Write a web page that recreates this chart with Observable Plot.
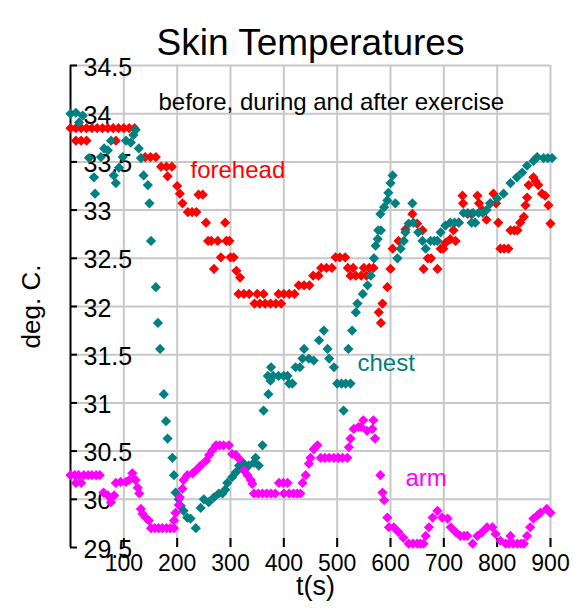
<!DOCTYPE html>
<html><head><meta charset="utf-8">
<script src="https://cdn.jsdelivr.net/npm/d3@7"></script>
<script src="https://cdn.jsdelivr.net/npm/@observablehq/plot@0.6"></script>
<style>
body{margin:0;background:#fff;}
svg{font-family:"Liberation Sans",Arial,sans-serif;}
</style>
</head><body><div id="chart"></div>
<script>
const title = "Skin Temperatures";
const xLabel = "t(s)";
const yLabel = "deg. C.";
const xTicks = [100,200,300,400,500,600,700,800,900];
const yTicks = [29.5,30,30.5,31,31.5,32,32.5,33,33.5,34,34.5];

const seriesNames = ["forehead","chest","arm"];

const foreheadT = [0,10,20,30,40,50,60,70,80,90,100,110,120,10,20,30,85,
  140,150,160,170,180,190,182,200,205,210,220,228,236,240,248,
  254,258,264,269,276,282,290,292,298,300,306,311,318,
  315,325,335,345,350,355,362,365,375,385,390,395,400,410,420,428,438,448,455,465,470,480,490,497,505,515,520,525,530,535,545,550,555,560,568,
  578,582,585,594,600,604,615,628,641,650,660,662,670,676,688,694,699,703,712,718,722,728,735,736,745,752,763,766,772,780,787,793,798,
  802,806,813,821,825,832,838,843,850,853,856,859,868,872,877,884,890,896,900];
const foreheadV = [33.85,33.85,33.85,33.85,33.85,33.85,33.85,33.85,33.85,33.85,33.85,33.85,33.85,33.72,33.72,33.72,33.72,
  33.55,33.55,33.55,33.45,33.45,33.45,33.35,33.25,33.17,33.07,32.98,32.98,32.98,33.16,33.16,
  32.87,32.68,32.68,32.39,32.68,32.51,32.87,32.68,32.68,32.51,32.51,32.37,32.3,
  32.13,32.13,32.13,32.03,32.13,32.03,32.13,32.03,32.03,32.03,32.13,32.03,32.13,32.13,32.13,32.22,32.22,32.22,32.32,32.32,32.4,32.4,32.4,32.51,32.51,32.51,32.4,32.32,32.4,32.32,32.32,32.4,32.32,32.4,32.4,
  31.94,31.83,32.03,32.2,32.39,32.6,32.68,32.8,32.96,32.86,32.79,32.39,32.5,32.5,32.39,32.6,32.6,32.66,32.7,32.79,32.68,32.87,33.15,33.07,32.96,32.96,33.15,33.07,33.0,32.9,33.07,33.17,33.07,
  32.87,32.6,32.6,32.6,32.79,32.79,32.79,32.87,32.93,33.05,33.13,33.26,33.34,33.3,33.26,33.17,33.15,33.05,32.86];

const chestT = [0,10,16,23,35,44,46,57,63,70,76,81,85,91,98,104,113,118,122,128,132,137,145,148,151,160,164,168,175,179,182,191,194,197,203,207,212,219,225,235,
  244,250,259,269,278,285,290,294,303,310,316,325,334,344,347,353,360,362,371,375,376,370,380,390,400,407,410,416,422,430,435,438,447,456,466,475,482,485,494,
  500,508,516,525,512,521,528,535,538,548,557,563,569,572,576,577,581,582,588,594,596,600,604,609,613,619,625,628,634,641,643,652,660,666,675,682,688,694,703,
  712,720,728,737,745,752,755,759,765,773,780,787,800,812,825,837,847,856,868,875,887,895,903];
const chestV = [34.0,34.01,33.91,33.98,33.54,33.34,33.17,33.55,33.64,33.62,33.72,33.36,33.28,33.44,33.55,33.72,33.7,33.78,33.83,33.64,33.54,33.36,33.26,33.07,32.68,32.2,31.83,31.56,31.09,30.81,30.63,30.43,30.25,30.07,30.0,29.93,29.88,29.81,29.8,29.7,
  29.91,30.0,29.97,30.02,30.06,30.06,30.1,30.17,30.23,30.28,30.35,30.37,30.35,30.38,30.43,30.35,30.56,30.92,31.09,31.23,31.37,31.28,31.28,31.28,31.28,31.28,31.2,31.2,31.37,31.37,31.46,31.56,31.46,31.44,31.65,31.75,31.56,31.46,31.37,
  31.2,31.2,31.2,31.2,30.92,31.56,31.75,31.94,32.03,32.13,32.22,32.32,32.5,32.63,32.7,32.79,32.96,32.79,33.03,33.1,33.18,33.28,33.36,33.07,32.5,32.6,32.68,32.77,32.86,33.07,32.87,32.77,32.68,32.6,32.68,32.68,32.68,32.77,32.84,
  32.87,32.87,32.87,32.97,32.97,32.87,32.97,32.87,32.97,32.97,33.0,33.07,33.12,33.17,33.28,33.34,33.39,33.46,33.51,33.55,33.54,33.54,33.54];

const armT = [0,8,10,15,20,25,33,40,48,55,62,70,76,82,85,94,104,110,116,122,126,129,132,135,141,147,151,158,165,172,180,187,194,194,197,203,205,210,212,219,229,235,244,254,260,266,273,280,287,297,
  303,310,316,325,332,338,341,344,352,360,368,376,384,391,399,407,400,410,418,425,431,435,441,447,450,456,463,469,477,485,494,502,510,519,522,525,531,540,545,549,556,566,568,571,
  581,585,588,594,597,606,615,624,634,642,650,656,662,666,672,679,688,697,707,713,722,731,738,744,754,763,772,781,791,797,806,816,825,822,830,838,845,850,856,862,868,875,881,893,900];
const armV = [30.25,30.25,30.17,30.25,30.17,30.25,30.25,30.25,30.25,30.25,30.07,30.04,29.97,30.04,30.17,30.18,30.18,30.2,30.27,30.2,30.12,30.06,29.9,29.85,29.81,29.78,29.7,29.7,29.7,29.7,29.7,29.7,29.7,29.78,29.86,29.94,30.02,30.11,30.2,30.25,30.27,30.3,30.35,30.4,30.46,30.51,30.56,30.56,30.56,30.56,
  30.47,30.46,30.42,30.3,30.25,30.2,30.16,30.06,30.06,30.06,30.06,30.06,30.06,30.17,30.17,30.17,30.06,30.06,30.06,30.06,30.06,30.17,30.25,30.37,30.43,30.52,30.56,30.43,30.43,30.43,30.43,30.43,30.43,30.43,30.54,30.63,30.73,30.75,30.75,30.82,30.71,30.73,30.82,30.63,
  30.25,30.07,29.99,29.81,29.71,29.71,29.66,29.6,29.54,29.54,29.54,29.54,29.54,29.62,29.71,29.81,29.88,29.81,29.8,29.71,29.66,29.62,29.62,29.62,29.54,29.62,29.66,29.71,29.71,29.64,29.57,29.54,29.62,29.54,29.54,29.54,29.54,29.54,29.62,29.71,29.8,29.83,29.86,29.9,29.86];

const noteTexts = ["before, during and after exercise","forehead","chest","arm"];
const noteT = [165,225,538,628];
const noteV = [34.12,33.41,31.41,30.22];

const colors = ["#ff0000","#008080","#ff00ff"];
const noteColors = ["#000000", ...colors];

const toRows = (T, V) => T.map((t, i) => ({t, v: V[i]}));
const seriesRows = [toRows(foreheadT, foreheadV), toRows(chestT, chestV), toRows(armT, armV)];

const font = "Liberation Sans, Arial, sans-serif";
const marks = [
  Plot.gridX(xTicks, {stroke: "#c8c8c8", strokeOpacity: 1, strokeWidth: 2}),
  Plot.gridY(yTicks.filter(d => d > 29.5), {stroke: "#c8c8c8", strokeOpacity: 1, strokeWidth: 2}),
  Plot.ruleX([0], {stroke: "black", strokeWidth: 2}),
  Plot.axisY(yTicks, {anchor: "left", tickSize: -7, strokeWidth: 2, tickFormat: () => "", label: null}),
  Plot.axisY(yTicks, {anchor: "left", tickSize: 0, tickPadding: 0, textAnchor: "start", dx: 13, dy: 2, fontSize: 25, fill: "black", label: null, tickFormat: d => String(d)}),
  Plot.axisX(xTicks, {anchor: "bottom", tickSize: -9, strokeWidth: 2, tickFormat: () => "", label: null}),
  Plot.axisX(xTicks, {anchor: "bottom", tickSize: 0, tickPadding: 7, fontSize: 23, fill: "black", label: null}),
];
seriesRows.forEach((rows, i) => {
  marks.push(Plot.dot(rows, {x: "t", y: "v", fill: colors[i], symbol: "diamond2", r: 4.6, stroke: "none"}));
});
noteTexts.forEach((s, i) => {
  marks.push(Plot.text([s], {x: () => noteT[i], y: () => noteV[i], text: d => d, fill: noteColors[i], textAnchor: "start", fontSize: 24}));
});
marks.push(Plot.text([title], {frameAnchor: "top", dy: -37, text: d => d, fontSize: 37, fill: "black", textAnchor: "middle"}));
marks.push(Plot.text([yLabel], {frameAnchor: "left", rotate: -90, dx: -39, text: d => d, fontSize: 26, fill: "black", textAnchor: "middle"}));
marks.push(Plot.text([xLabel], {frameAnchor: "bottom", dy: 47, dx: 5, text: d => d, fontSize: 27, fill: "black", textAnchor: "middle"}));

const chart = Plot.plot({
  width: 573, height: 612,
  marginLeft: 70, marginRight: 23, marginTop: 65, marginBottom: 65,
  x: {domain: [0, 900]},
  y: {domain: [29.5, 34.5]},
  style: {fontFamily: font, background: "white", overflow: "visible"},
  marks
});
document.getElementById("chart").appendChild(chart);
</script>
</body></html>
